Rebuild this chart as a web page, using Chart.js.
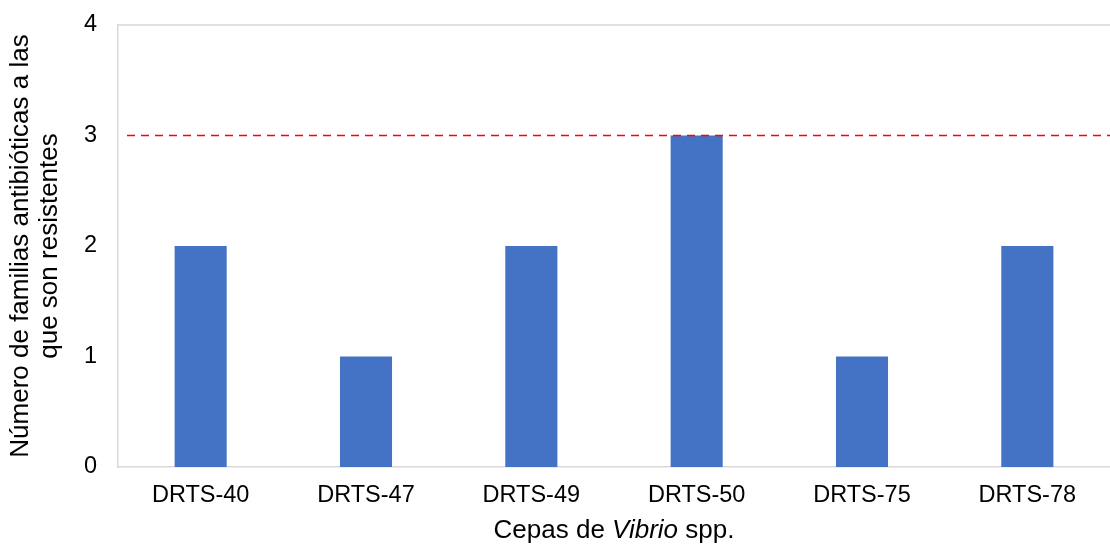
<!DOCTYPE html>
<html>
<head>
<meta charset="utf-8">
<script src="https://cdn.jsdelivr.net/npm/chart.js@4"></script>
<style>
  html, body { margin: 0; padding: 0; background: #fff; }
  #wrap { width: 1110px; height: 547px; }
</style>
</head>
<body>
<div id="wrap"><canvas id="chart"></canvas></div>
<script>
// data
const strains = ['DRTS-40', 'DRTS-47', 'DRTS-49', 'DRTS-50', 'DRTS-75', 'DRTS-78'];
const families = [2, 1, 2, 3, 1, 2];
const threshold = [3];
const yTicks = [0, 1, 2, 3, 4];

const FONT = "'Liberation Sans', Arial, sans-serif";

// frame around plot + red dashed threshold + mixed-style x title
const extras = {
    id: 'extras',
    afterDraw(chart) {
        const { ctx, chartArea, scales } = chart;
        ctx.save();
        // top border (left/bottom come from axes)
        ctx.strokeStyle = '#d9d9d9';
        ctx.lineWidth = 1.5;
        ctx.beginPath();
        ctx.moveTo(chartArea.left, chartArea.top);
        ctx.lineTo(chartArea.right, chartArea.top);
        ctx.stroke();

        // threshold line
        const y = scales.y.getPixelForValue(threshold[0]);
        ctx.strokeStyle = '#ff0000';
        ctx.lineWidth = 1.6;
        ctx.setLineDash([8, 6]);
        ctx.beginPath();
        ctx.moveTo(chartArea.left + 9, y);
        ctx.lineTo(chartArea.right, y);
        ctx.stroke();
        ctx.setLineDash([]);

        // x axis title: "Cepas de Vibrio spp." with italic genus
        const parts = [
            { t: 'Cepas de ', f: '26px ' + FONT },
            { t: 'Vibrio', f: 'italic 26px ' + FONT },
            { t: ' spp.', f: '26px ' + FONT }
        ];
        let total = 0;
        parts.forEach(p => { ctx.font = p.f; p.w = ctx.measureText(p.t).width; total += p.w; });
        let x = (chartArea.left + chartArea.right) / 2 - total / 2;
        ctx.fillStyle = '#000';
        ctx.textBaseline = 'middle';
        ctx.textAlign = 'left';
        parts.forEach(p => { ctx.font = p.f; ctx.fillText(p.t, x, 531); x += p.w; });
        ctx.restore();
    }
};

new Chart(document.getElementById('chart').getContext('2d'), {
    type: 'bar',
    data: {
        labels: strains,
        datasets: [{
            data: families,
            backgroundColor: '#4472c4',
            borderWidth: 0,
            categoryPercentage: 1,
            barPercentage: 0.315
        }]
    },
    options: {
        responsive: true,
        maintainAspectRatio: false,
        animation: false,
        layout: { padding: { top: 25, right: 0, bottom: 38, left: 6 } },
        plugins: {
            legend: { display: false },
            tooltip: { enabled: false }
        },
        scales: {
            x: {
                afterFit(axis) { axis.height = 42; axis.paddingLeft = 0; axis.paddingRight = 0; },
                grid: { display: false, drawTicks: false },
                border: { display: true, color: '#d9d9d9', width: 1.5 },
                ticks: { color: '#000', padding: 14, font: { family: FONT, size: 23.5 } }
            },
            y: {
                min: 0,
                max: 4,
                afterBuildTicks(axis) { axis.ticks = yTicks.map(v => ({ value: v })); },
                afterFit(axis) { axis.width = 112; axis.paddingTop = 0; axis.paddingBottom = 0; },
                grid: { display: false, drawTicks: false },
                border: { display: true, color: '#d9d9d9', width: 1.5 },
                ticks: { color: '#000', padding: 21, font: { family: FONT, size: 23.5 } },
                title: {
                    display: true,
                    text: ['Número de familias antibióticas a las', 'que son resistentes'],
                    color: '#000',
                    font: { family: FONT, size: 26, lineHeight: 1.1 },
                    padding: { top: 1, bottom: 20 }
                }
            }
        }
    },
    plugins: [extras]
});
</script>
</body>
</html>
